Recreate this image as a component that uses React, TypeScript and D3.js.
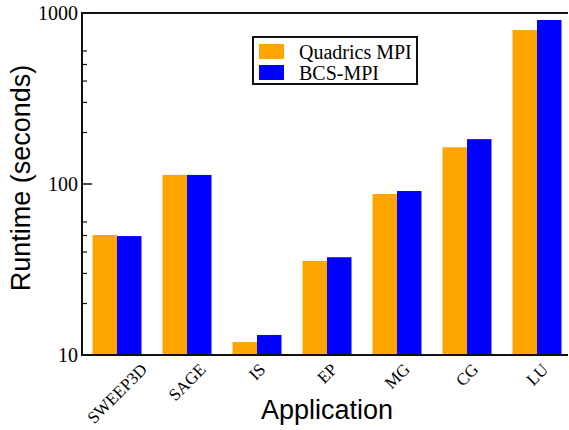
import React, { useEffect, useRef } from "react";
import * as d3 from "d3";

const apps = ["SWEEP3D", "SAGE", "IS", "EP", "MG", "CG", "LU"];
const seriesNames = ["Quadrics MPI", "BCS-MPI"];
const quadrics = [50.3, 113, 11.9, 35.5, 87.4, 164, 795];
const bcs = [49.6, 113, 13.1, 37.3, 91, 183, 910];
const colors = ["#FFA500", "#0000FF"];
const majorTicks = [10, 100, 1000];
const minorTicks = [20, 30, 40, 50, 60, 200, 300, 400, 500, 600];

const App: React.FC = () => {
  const svgRef = useRef<SVGSVGElement | null>(null);

  useEffect(() => {
    const width = 569;
    const height = 430;
    const left = 82;
    const right = 568;
    const top = 13;
    const bottom = 355;
    const serif = "'Liberation Serif', 'Times New Roman', serif";
    const sans = "'Liberation Sans', Arial, Helvetica, sans-serif";

    const svg = d3.select(svgRef.current);
    svg.selectAll("*").remove();
    svg.attr("width", width).attr("height", height);

    const x = d3
      .scaleBand()
      .domain(apps)
      .range([left, left + 490])
      .paddingInner(0.3)
      .paddingOuter(0.15);

    const xs = d3
      .scaleBand()
      .domain(seriesNames)
      .range([0, x.bandwidth()]);

    const y = d3.scaleLog().domain([10, 1000]).range([bottom, top]);

    const values = [quadrics, bcs];

    // bars
    seriesNames.forEach((name, si) => {
      svg
        .append("g")
        .selectAll("rect")
        .data(values[si])
        .enter()
        .append("rect")
        .attr("x", (_, i) => (x(apps[i]) as number) + (xs(name) as number))
        .attr("y", (d) => y(d))
        .attr("width", xs.bandwidth())
        .attr("height", (d) => bottom - y(d))
        .attr("fill", colors[si]);
    });

    // frame lines
    svg
      .append("line")
      .attr("x1", left)
      .attr("x2", left)
      .attr("y1", top)
      .attr("y2", bottom)
      .attr("stroke", "#111")
      .attr("stroke-width", 2);
    svg
      .append("line")
      .attr("x1", left - 1)
      .attr("x2", right)
      .attr("y1", bottom)
      .attr("y2", bottom)
      .attr("stroke", "#111")
      .attr("stroke-width", 2);
    svg
      .append("line")
      .attr("x1", left - 1)
      .attr("x2", right)
      .attr("y1", top)
      .attr("y2", top)
      .attr("stroke", "#111")
      .attr("stroke-width", 2);

    // y ticks
    svg
      .append("g")
      .selectAll("line.major")
      .data(majorTicks)
      .enter()
      .append("line")
      .attr("x1", left)
      .attr("x2", left + 10)
      .attr("y1", (d) => y(d))
      .attr("y2", (d) => y(d))
      .attr("stroke", "#111")
      .attr("stroke-width", 1.5);
    svg
      .append("g")
      .selectAll("line.minor")
      .data(minorTicks)
      .enter()
      .append("line")
      .attr("x1", left)
      .attr("x2", left + 5)
      .attr("y1", (d) => y(d))
      .attr("y2", (d) => y(d))
      .attr("stroke", "#111")
      .attr("stroke-width", 1.2);
    svg
      .append("g")
      .selectAll("text")
      .data(majorTicks)
      .enter()
      .append("text")
      .attr("x", left - 4)
      .attr("y", (d) => y(d))
      .attr("dy", "0.35em")
      .attr("text-anchor", "end")
      .style("font-family", serif)
      .style("font-size", "20px")
      .text((d) => String(d));

    // x labels: rotated about their middle, top of the rotated box just below the axis
    const labelTop = 362;
    svg
      .append("g")
      .selectAll("text")
      .data(apps)
      .enter()
      .append("text")
      .attr("text-anchor", "middle")
      .attr("dy", "0.35em")
      .style("font-family", serif)
      .style("font-size", "17px")
      .text((d) => d)
      .attr("transform", function (d) {
        const len = (this as SVGTextElement).getComputedTextLength();
        const half = ((len + 12) * Math.SQRT1_2) / 2;
        const cx = (x(d) as number) + x.bandwidth() / 2;
        return `translate(${cx},${labelTop + half}) rotate(-45)`;
      });

    // axis titles
    svg
      .append("text")
      .attr("x", 327)
      .attr("y", 419)
      .attr("text-anchor", "middle")
      .style("font-family", sans)
      .style("font-size", "27px")
      .text("Application");
    svg
      .append("text")
      .attr("transform", `translate(30,178) rotate(-90)`)
      .attr("text-anchor", "middle")
      .style("font-family", sans)
      .style("font-size", "27px")
      .text("Runtime (seconds)");

    // legend
    const lg = svg.append("g");
    lg.append("rect")
      .attr("x", 253)
      .attr("y", 37)
      .attr("width", 164)
      .attr("height", 47)
      .attr("fill", "white")
      .attr("stroke", "#111")
      .attr("stroke-width", 2);
    seriesNames.forEach((name, i) => {
      lg.append("rect")
        .attr("x", 259)
        .attr("y", 44 + i * 21)
        .attr("width", 25)
        .attr("height", 15)
        .attr("fill", colors[i]);
      lg.append("text")
        .attr("x", 299)
        .attr("y", 51.5 + i * 21)
        .attr("dy", "0.35em")
        .style("font-family", serif)
        .style("font-size", "20px")
        .text(name);
    });
  }, []);

  return (
    <div style={{ position: "fixed", left: 0, top: 0, background: "white" }}>
      <svg ref={svgRef}></svg>
    </div>
  );
};

export default App;
